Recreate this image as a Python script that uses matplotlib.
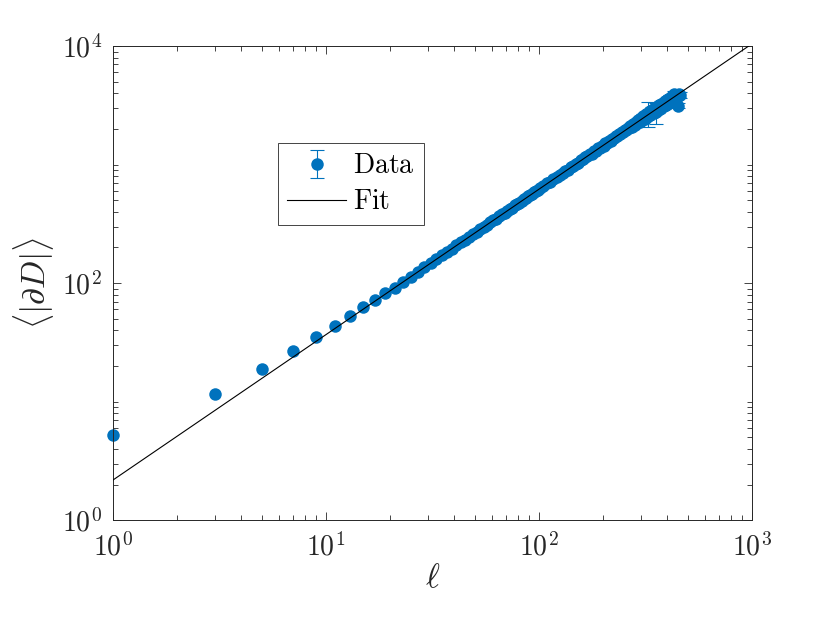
import numpy as np
import matplotlib
matplotlib.use('Agg')
import matplotlib.pyplot as plt
from matplotlib.ticker import NullFormatter

# ============================================================
# Data: mean boundary size <|dD|> vs. length scale ell
# ============================================================
ell_head = [1, 3, 5, 7, 9, 11, 13, 15, 17, 19, 21, 23, 25, 27, 29, 31, 33, 35,
            37, 39, 41, 43, 45, 47, 49, 51, 53, 55, 57, 59, 61, 63, 65, 67, 69,
            71, 73, 75, 77, 79, 81, 83, 85, 87, 89, 91, 93, 95, 97, 99,
            101, 105, 109, 113, 117, 121, 125, 129, 133, 137, 141, 145, 149,
            153, 157, 161, 165, 169, 173, 177, 181, 185, 189, 193, 197, 201,
            205, 209, 213, 217, 221, 225, 229, 233, 237, 241, 245, 249, 253,
            257, 261, 265, 269, 273, 277, 281, 285, 289, 293, 297]
D_head = [5.25, 11.5, 18.9, 26.7, 35.2, 43.4, 52.7, 62.4, 71.5, 82.4, 91.8,
          102.6, 113.5, 124.4, 136.5, 148.2, 158.6, 171.9, 184.0, 194.6, 208.9,
          221.4, 231.7, 246.8, 259.9, 270.3, 286.0, 299.5, 309.6, 326.2, 339.9,
          350.1, 367.4, 381.1, 391.5, 409.6, 423.7, 433.5, 452.7, 466.9, 476.1,
          496.5, 510.8, 520.0, 540.9, 555.6, 564.2, 585.9, 600.5, 609.4,
          631, 655, 694, 718, 757, 780, 821, 843, 886, 908, 952, 974, 1019,
          1039, 1087, 1106, 1156, 1172, 1226, 1241, 1296, 1309, 1368, 1380,
          1440, 1449, 1512, 1519, 1586, 1590, 1660, 1662, 1735, 1733, 1812,
          1805, 1889, 1877, 1968, 1948, 2047, 2020, 2128, 2093, 2210, 2168,
          2295, 2237, 2380, 2310]

# largest scales: visible scatter and error bars
ell_tail = [301, 305, 309, 313, 317, 321, 325, 329, 333, 337, 341, 345, 349,
            353, 357, 361, 365, 369, 373, 377, 381, 385, 389, 393, 397, 401,
            405, 409, 413, 417, 421, 425, 429, 433, 437, 441, 445, 449, 453, 457]
D_tail = [2470, 2380, 2560, 2440, 2650, 2520, 2740, 2600, 2830, 2660, 2900,
          2750, 2990, 2780, 3080, 2900, 3180, 2960, 3260, 3040, 3340, 3120,
          3420, 3180, 3500, 3260, 3560, 3380, 3650, 3420, 3780, 3560, 3950,
          3600, 3850, 3700, 3780, 3150, 3920, 3880]
D_tail_err = [100, 110, 120, 110, 130, 120, 650, 130, 140, 130, 140, 140, 150,
              560, 150, 150, 160, 150, 160, 170, 170, 160, 170, 160, 180, 170,
              180, 180, 190, 180, 200, 190, 210, 190, 200, 200, 200, 170, 210,
              200]

# power-law fit  <|dD|> = A * ell^b
fit_A = 2.18
fit_b = 1.227
fit_range = [1, 1000]

# ============================================================
# Plot
# ============================================================
plt.rcParams['mathtext.fontset'] = 'cm'
plt.rcParams['font.family'] = 'serif'
plt.rcParams['font.serif'] = ['cmr10', 'DejaVu Serif']
plt.rcParams['axes.unicode_minus'] = False

blue = '#0072BD'
dark = '#262626'

fig = plt.figure(figsize=(8.3, 6.23), dpi=100)
ax = fig.add_axes([0.136, 0.165, 0.770, 0.761])

ax.errorbar(ell_head, D_head, fmt='o', color=blue, ms=9, mec='none',
            zorder=2, clip_on=False)
data = ax.errorbar(ell_tail, D_tail, yerr=D_tail_err, fmt='o', color=blue, ms=9,
                   mec='none', ecolor=blue, elinewidth=0.8, capsize=5,
                   capthick=0.8, zorder=2)

x_fit = np.array(fit_range, dtype=float)
fit_line, = ax.plot(x_fit, fit_A * x_fit ** fit_b, color='black', lw=0.8, zorder=3)

ax.set_xscale('log')
ax.set_yscale('log')
ax.set_xlim(1, 1000)
ax.set_ylim(1, 1e4)

# ticks MATLAB style: inward, all four sides
ax.set_xticks([1, 10, 100, 1000])
ax.set_xticklabels([r'$10^{0}$', r'$10^{1}$', r'$10^{2}$', r'$10^{3}$'])
ax.set_yticks([1, 100, 10000])
ax.set_yticklabels([r'$10^{0}$', r'$10^{2}$', r'$10^{4}$'])
x_minor = [m * 10 ** k for k in range(0, 3) for m in range(2, 10)]
y_minor = [m * 10 ** k for k in range(0, 4) for m in range(1, 10) if not (m == 1 and k % 2 == 0)]
ax.set_xticks(x_minor, minor=True)
ax.set_yticks(y_minor, minor=True)
ax.xaxis.set_minor_formatter(NullFormatter())
ax.yaxis.set_minor_formatter(NullFormatter())
ax.tick_params(which='both', direction='in', top=True, right=True,
               color=dark, labelcolor=dark, width=0.6, labelsize=20)
ax.tick_params(which='major', length=6)
ax.tick_params(which='minor', length=3.5)
ax.tick_params(axis='x', pad=9)
ax.tick_params(axis='y', pad=8)
for s in ax.spines.values():
    s.set_linewidth(0.7)
    s.set_color(dark)

ax.set_xlabel(r'$\ell$', fontsize=24, color=dark, labelpad=2)
ax.set_ylabel(r'$\langle|\partial D|\rangle$', fontsize=24, color=dark, labelpad=4)

leg = ax.legend([data, fit_line], [r'$\mathrm{Data}$', r'$\mathrm{Fit}$'],
                loc='upper left', bbox_to_anchor=(0.258, 0.795), borderaxespad=0,
                fontsize=20, fancybox=False, framealpha=1, edgecolor=dark,
                handlelength=2.1, handletextpad=0.25, labelspacing=0.35,
                borderpad=0.35)
leg.get_frame().set_linewidth(0.6)

fig.savefig('out.png', dpi=100)
